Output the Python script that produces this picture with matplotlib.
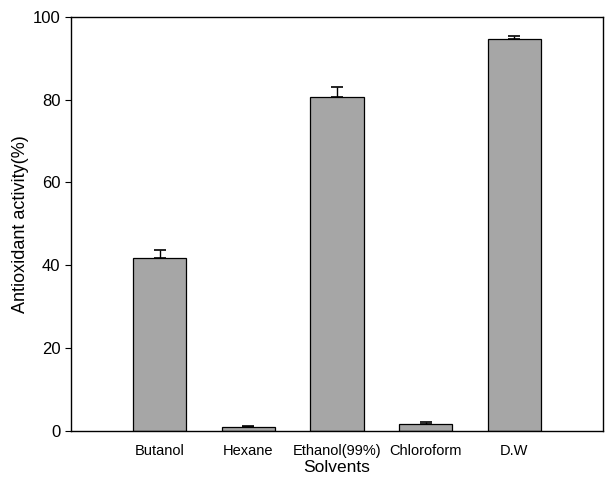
import numpy as np
import matplotlib.pyplot as plt

plt.rcParams['font.family'] = ['Liberation Sans', 'DejaVu Sans']

# Data
solvents = ['Butanol', 'Hexane', 'Ethanol(99%)', 'Chloroform', 'D.W']
activity = [41.8, 0.9, 80.6, 1.8, 94.6]
error = [1.8, 0.3, 2.5, 0.3, 0.7]

fig = plt.figure(figsize=(6.08, 4.78), dpi=100)
ax = fig.add_axes([0.1168, 0.0983, 0.875, 0.8667])

x = np.arange(len(solvents))
ax.bar(x, activity, width=0.6, color='#a6a6a6', edgecolor='black', linewidth=0.9,
       zorder=2)
ax.errorbar(x, activity, yerr=[np.zeros(len(error)), error], fmt='none',
            ecolor='black', elinewidth=1, capsize=4, capthick=1.2, zorder=3)

ax.set_xlim(-1, 5)
ax.set_ylim(0, 100)
ax.set_yticks(np.arange(0, 101, 20))
ax.set_xticks(x)
ax.set_xticklabels(solvents, fontsize=10.5)
ax.tick_params(axis='x', length=0, pad=9)
ax.tick_params(axis='y', direction='out', length=4, labelsize=12)
ax.set_xlabel('Solvents', fontsize=12.5, labelpad=2)
ax.set_ylabel('Antioxidant activity(%)', fontsize=13, labelpad=3)
for s in ax.spines.values():
    s.set_linewidth(1.0)

fig.savefig('out.png', dpi=100)
